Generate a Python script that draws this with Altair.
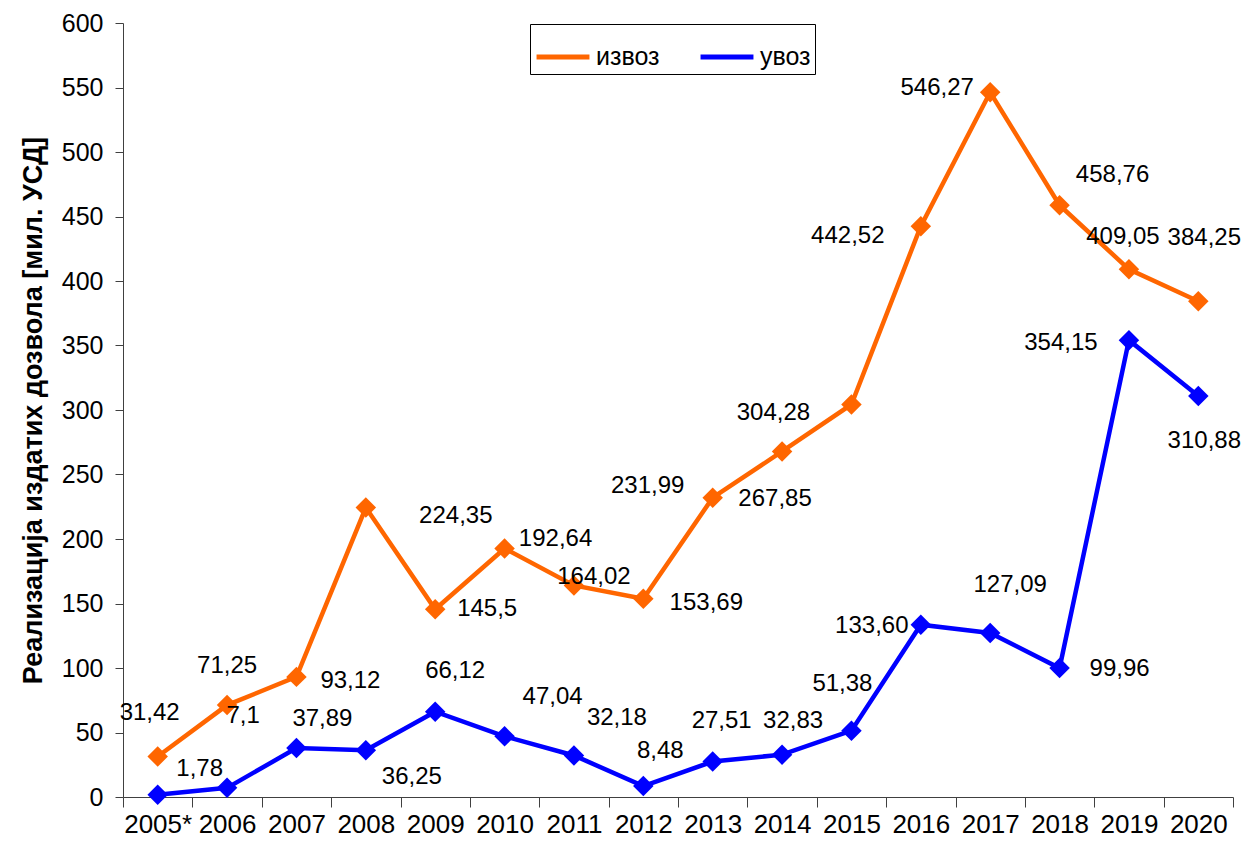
import altair as alt
import pandas as pd

years = ["2005*", "2006", "2007", "2008", "2009", "2010", "2011", "2012",
         "2013", "2014", "2015", "2016", "2017", "2018", "2019", "2020"]

izvoz = [31.42, 71.25, 93.12, 224.35, 145.5, 192.64, 164.02, 153.69,
         231.99, 267.85, 304.28, 442.52, 546.27, 458.76, 409.05, 384.25]
izvoz_labels = ["31,42", "71,25", "93,12", "224,35", "145,5", "192,64", "164,02", "153,69",
                "231,99", "267,85", "304,28", "442,52", "546,27", "458,76", "409,05", "384,25"]

uvoz = [1.78, 7.1, 37.89, 36.25, 66.12, 47.04, 32.18, 8.48,
        27.51, 32.83, 51.38, 133.60, 127.09, 99.96, 354.15, 310.88]
uvoz_labels = ["1,78", "7,1", "37,89", "36,25", "66,12", "47,04", "32,18", "8,48",
               "27,51", "32,83", "51,38", "133,60", "127,09", "99,96", "354,15", "310,88"]

# label offsets (pixels) relative to each point, as placed in the original
izvoz_dx = [-8, 0, 54, 90, 52, 51, 20, 63, -65, -7, -78, -73, -53, 53, -6, 6]
izvoz_dy = [-43, -39, 4, 8, 0, -9, -8, 4, -12, 48, 9, 10, -4, -30, -32, -63]
uvoz_dx = [42, 16, 26, 46, 20, 48, 43, 17, 9, 11, -9, -49, 20, 60, -68, 6]
uvoz_dy = [-26, -72, -29, 27, -41, -39, -37, -35, -41, -34, -47, 1, -48, 1, 3, 45]

series_names = ["извоз", "увоз"]
colors = ["#FF6600", "#0000FF"]

rows = []
for i, y in enumerate(years):
    rows.append(dict(year=y, series=series_names[0], value=izvoz[i], label=izvoz_labels[i],
                     dx=izvoz_dx[i], dy=izvoz_dy[i]))
for i, y in enumerate(years):
    rows.append(dict(year=y, series=series_names[1], value=uvoz[i], label=uvoz_labels[i],
                     dx=uvoz_dx[i], dy=uvoz_dy[i]))
df = pd.DataFrame(rows)

FONT = "Liberation Sans"

x_enc = alt.X("year:N", sort=years, title=None,
              scale=alt.Scale(paddingInner=0, paddingOuter=0),
              axis=alt.Axis(labelAngle=0, labelFontSize=26, labelFont=FONT, labelColor="black",
                            tickBand="extent", tickSize=10, tickColor="#404040",
                            domainColor="#404040", labelPadding=4, labelOverlap=False,
                            grid=False))
y_enc = alt.Y("value:Q", title="Реализација издатих дозвола [мил.  УСД]",
              scale=alt.Scale(domain=[0, 600], nice=False),
              axis=alt.Axis(values=list(range(0, 601, 50)), labelFontSize=25, labelFont=FONT,
                            labelColor="black", tickSize=8, tickColor="#404040",
                            domainColor="#404040", labelPadding=12, grid=False,
                            titleFont=FONT, titleFontSize=27, titleFontWeight="bold",
                            titleColor="black", titlePadding=14))

color_scale = alt.Scale(domain=series_names, range=colors)
legend = alt.Legend(title=None, orient="none", legendX=407, legendY=1, direction="horizontal",
                    symbolType="stroke", symbolStrokeWidth=5, symbolSize=2800,
                    labelFont=FONT, labelFontSize=25, labelColor="black",
                    strokeColor="black", fillColor="white", padding=4,
                    columnPadding=30, labelOffset=4)

base = alt.Chart(df).encode(x=x_enc, y=y_enc)

lines = base.mark_line(strokeWidth=4.5).encode(
    color=alt.Color("series:N", scale=color_scale, legend=legend),
    detail="series:N")
points = base.mark_point(shape="diamond", filled=True, size=420, opacity=1).encode(
    color=alt.Color("series:N", scale=color_scale, legend=legend))
texts = base.mark_text(font=FONT, fontSize=24, color="black", align="center", baseline="middle",
                       dx=alt.expr("datum.dx"), dy=alt.expr("datum.dy")).encode(text="label:N")

chart = alt.layer(lines, points, texts).properties(
    width=1110, height=774, autosize="none",
    padding={"left": 115, "top": 15, "right": 15, "bottom": 40},
    background="white"
).configure_view(stroke=None)

chart.save("out.html", embed_options={"renderer": "svg", "actions": False})
